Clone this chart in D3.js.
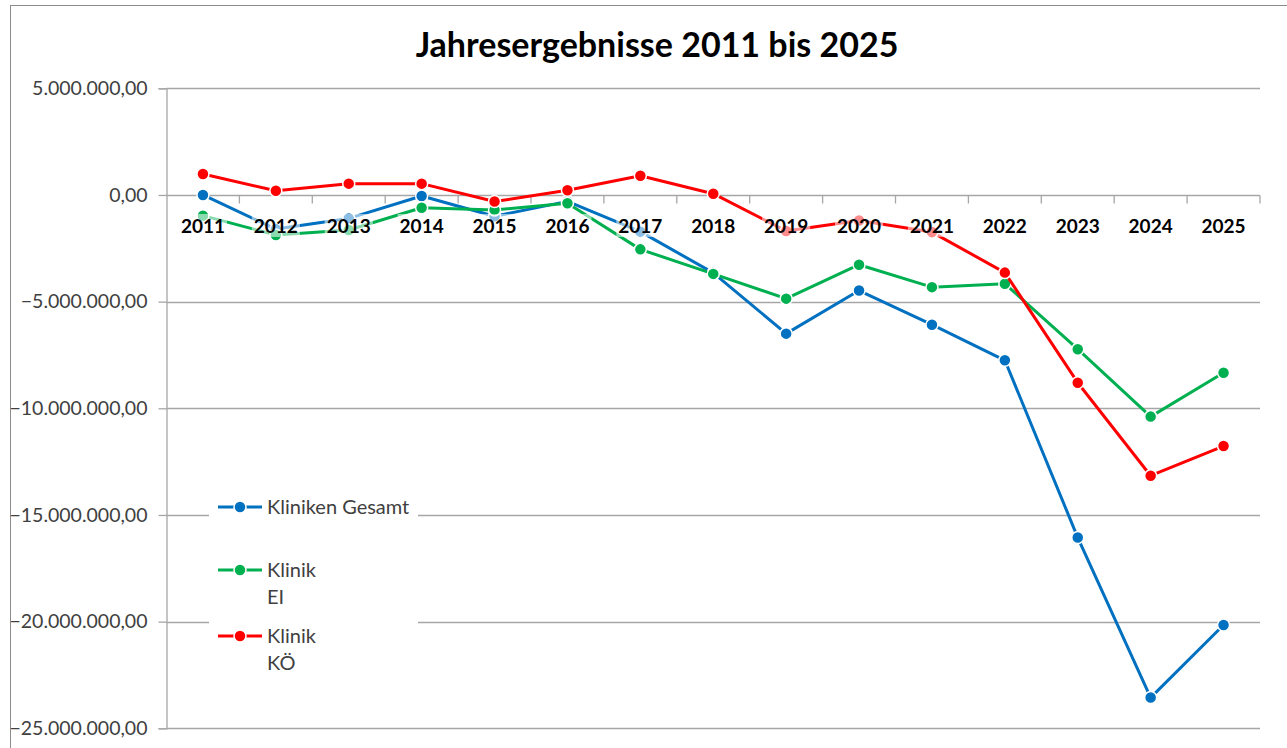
<!DOCTYPE html>
<html>
<head>
<meta charset="utf-8">
<script src="https://cdn.jsdelivr.net/npm/d3@7"></script>
<style>
  body { margin: 0; background: #fff; }
  text { font-family: Lato, "Open Sans", sans-serif; }
</style>
</head>
<body>
<div id="chart"></div>
<script>
// Jahresergebnisse in Euro
const years = ["2011","2012","2013","2014","2015","2016","2017","2018","2019","2020","2021","2022","2023","2024","2025"];
const klinikenGesamt = [0, -1600000, -1100000, -50000, -1000000, -300000, -1720000, -3650000, -6500000, -4480000, -6080000, -7750000, -16060000, -23560000, -20160000];
const klinikEI = [-970000, -1880000, -1640000, -600000, -700000, -390000, -2550000, -3700000, -4860000, -3270000, -4320000, -4160000, -7230000, -10390000, -8330000];
const klinikKOE = [980000, 200000, 530000, 530000, -310000, 220000, 900000, 60000, -1690000, -1200000, -1740000, -3640000, -8800000, -13160000, -11770000];
const yTicks = [5000000, 0, -5000000, -10000000, -15000000, -20000000, -25000000];

const series = [
  { name: ["Kliniken Gesamt"], color: "#0070C0", values: klinikenGesamt },
  { name: ["Klinik", "EI"], color: "#00B050", values: klinikEI },
  { name: ["Klinik", "KÖ"], color: "#FF0000", values: klinikKOE },
];

const W = 1287, H = 748;
const svg = d3.select("#chart").append("svg")
  .attr("width", W).attr("height", H);

svg.append("rect").attr("width", W).attr("height", H).attr("fill", "#fff");
// outer chart frame
svg.append("rect")
  .attr("x", 10.5).attr("y", 5.5)
  .attr("width", W + 20).attr("height", H + 20)
  .attr("fill", "none").attr("stroke", "#8c8c8c");

const plotLeft = 166.5, plotRight = 1260, plotTop = 88.3, plotBottom = 728.3;
const x = d3.scaleBand().domain(years).range([plotLeft, plotRight]);
const y = d3.scaleLinear().domain([-25000000, 5000000]).range([plotBottom, plotTop]);

const de = d3.formatLocale({ decimal: ",", thousands: ".", grouping: [3], currency: ["", " €"] });
const fmt = de.format(",.2f");

// gridlines
svg.append("g").selectAll("line")
  .data(yTicks).join("line")
  .attr("x1", plotLeft).attr("x2", plotRight)
  .attr("y1", d => Math.round(y(d)) + 0.5).attr("y2", d => Math.round(y(d)) + 0.5)
  .attr("stroke", "#a6a6a6").attr("stroke-width", 1.3);

// y axis
const yAxis = svg.append("g")
  .attr("transform", `translate(${plotLeft},0)`)
  .call(d3.axisLeft(y).tickValues(yTicks).tickFormat(fmt).tickSize(8).tickPadding(11));
yAxis.select(".domain").attr("stroke", "#a6a6a6").attr("stroke-width", 1.3);
yAxis.selectAll(".tick line").attr("stroke", "#a6a6a6").attr("stroke-width", 1.3);
yAxis.selectAll(".tick text")
  .attr("fill", "#404040")
  .style("font-size", "19.5px")
  .style("font-family", "Lato, sans-serif");

// x axis ticks at category boundaries (on zero line)
const y0 = Math.round(y(0)) + 0.5;
const bounds = years.map(d => x(d)).concat([plotRight]).slice(1);
svg.append("g").selectAll("line")
  .data(bounds).join("line")
  .attr("x1", d => d).attr("x2", d => d)
  .attr("y1", y0).attr("y2", y0 + 8)
  .attr("stroke", "#a6a6a6").attr("stroke-width", 1.3);

// lines and markers
const line = d3.line()
  .x((d, i) => x(years[i]) + x.bandwidth() / 2)
  .y(d => y(d));

series.forEach(s => {
  svg.append("path")
    .datum(s.values)
    .attr("d", line)
    .attr("fill", "none")
    .attr("stroke", s.color)
    .attr("stroke-width", 3)
    .attr("stroke-linejoin", "round");
  svg.append("g").selectAll("circle")
    .data(s.values).join("circle")
    .attr("cx", (d, i) => x(years[i]) + x.bandwidth() / 2)
    .attr("cy", d => y(d))
    .attr("r", 6)
    .attr("fill", s.color)
    .attr("stroke", "#fff")
    .attr("stroke-width", 1.5);
});

// category labels with translucent backing
const xl = svg.append("g");
years.forEach(d => {
  const cx = x(d) + x.bandwidth() / 2;
  const t = xl.append("text")
    .attr("x", cx).attr("y", y(0) + 38)
    .attr("text-anchor", "middle")
    .attr("font-weight", "bold")
    .style("font-size", "19px")
    .attr("fill", "#000")
    .text(d);
  const b = t.node().getBBox();
  xl.insert("rect", "text")
    .attr("x", b.x - 2).attr("y", b.y)
    .attr("width", b.width + 4).attr("height", b.height)
    .attr("fill", "#fff").attr("opacity", 0.55);
});

// title
svg.append("text")
  .attr("x", 657).attr("y", 57)
  .attr("text-anchor", "middle")
  .attr("font-weight", "bold")
  .style("font-size", "34px")
  .attr("fill", "#000")
  .text("Jahresergebnisse 2011 bis 2025");

// legend
const legend = svg.append("g");
legend.append("rect")
  .attr("x", 209).attr("y", 486).attr("width", 209).attr("height", 200)
  .attr("fill", "#fff");
const legendY = [507, 570, 636];
series.forEach((s, i) => {
  const ly = legendY[i];
  legend.append("line")
    .attr("x1", 218).attr("x2", 262).attr("y1", ly).attr("y2", ly)
    .attr("stroke", s.color).attr("stroke-width", 3);
  legend.append("circle")
    .attr("cx", 240).attr("cy", ly).attr("r", 6)
    .attr("fill", s.color).attr("stroke", "#fff").attr("stroke-width", 1.5);
  s.name.forEach((n, j) => {
    legend.append("text")
      .attr("x", 267).attr("y", ly + 7 + j * 27)
      .style("font-size", "20px")
      .attr("fill", "#404040")
      .text(n);
  });
});
</script>
</body>
</html>
